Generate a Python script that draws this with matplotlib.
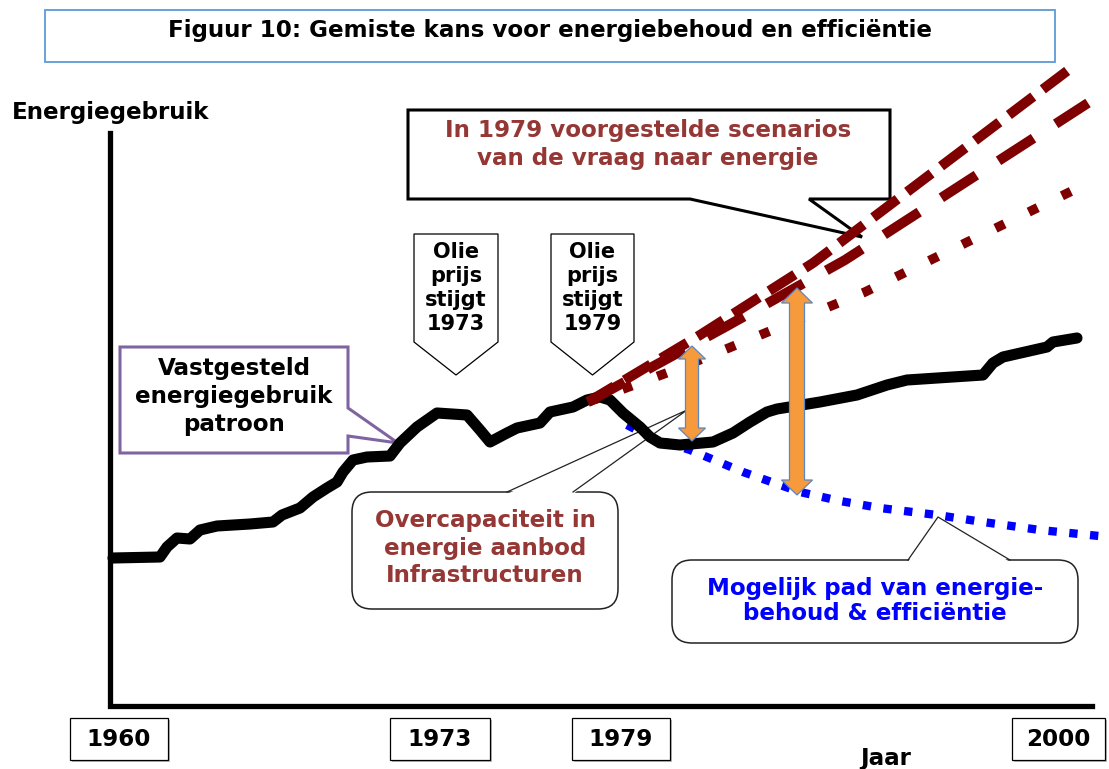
import matplotlib.pyplot as plt
from matplotlib.patches import Polygon, FancyBboxPatch, Rectangle

plt.rcParams['font.family'] = ['DejaVu Sans']
plt.rcParams['lines.scale_dashes'] = False

# diagram units = pixels of the original picture (y grows downward)
# historic energy use, 1960 -> 1979 -> 2000
usage_x = [113, 160, 167, 177, 190, 200, 217, 250, 273, 282, 300, 313, 327, 337,
           343, 353, 367, 390, 400, 417, 437, 467, 480, 490, 507, 517, 540, 550,
           573, 587, 600, 610, 623, 640, 650, 660, 680, 713, 733, 750, 767, 777,
           820, 857, 887, 907, 983, 993, 1003, 1047, 1053, 1077]
usage_y = [558, 557, 547, 538, 539, 530, 526, 524, 522, 515, 508, 497, 488, 482,
           472, 460, 457, 456, 443, 427, 413, 415, 430, 442, 433, 428, 423, 412,
           407, 400, 397, 400, 413, 427, 437, 443, 445, 442, 433, 422, 412, 409,
           402, 395, 385, 380, 375, 363, 357, 347, 342, 338]

# scenarios proposed in 1979
high_x = [588, 700, 813, 1075]
high_y = [402, 335, 263, 65]
mid_x = [588, 727, 845, 1088]
mid_y = [402, 326, 260, 103]
low_x = [588, 680, 865, 1082]
low_y = [402, 368, 292, 186]

# possible conservation & efficiency path
eff_x = [627, 650, 690, 743, 800, 840, 880, 937, 983, 1040, 1109]
eff_y = [425, 437, 450, 472, 492, 501, 508, 515, 522, 530, 537]

# missed-opportunity gaps (x, top, bottom)
gap_x = [692, 797]
gap_top = [346, 288]
gap_bottom = [441, 495]

year_labels = ['1960', '1973', '1979', '2000']
year_left = [70, 390, 572, 1012]
year_right = [168, 490, 670, 1105]

title = 'Figuur 10: Gemiste kans voor energiebehoud en efficiëntie'
dark_red = '#7F0000'
text_red = '#953735'
purple = '#8064A2'
orange = '#F79A3B'
FS = 16.6


def put_lines(ax, x, y, step, lines, **kw):
    for i, s in enumerate(lines):
        ax.text(x, y + i * step, s, ha='center', va='center',
                fontweight='bold', zorder=10, **kw)


def double_arrow(ax, x, y0, y1, shaft, head_w, head_len):
    pts = [(x, y0), (x + head_w / 2, y0 + head_len), (x + shaft / 2, y0 + head_len),
           (x + shaft / 2, y1 - head_len), (x + head_w / 2, y1 - head_len), (x, y1),
           (x - head_w / 2, y1 - head_len), (x - shaft / 2, y1 - head_len),
           (x - shaft / 2, y0 + head_len), (x - head_w / 2, y0 + head_len)]
    ax.add_patch(Polygon(pts, closed=True, fc=orange, ec='#5B87C5', lw=0.9, zorder=8))


def rounded_callout(ax, x0, y0, x1, y1, a, b, tip):
    ax.add_patch(FancyBboxPatch((x0, y0), x1 - x0, y1 - y0,
                                boxstyle='round,pad=0,rounding_size=20',
                                fc='white', ec='#222222', lw=1.1, zorder=4))
    ax.add_patch(Polygon([(a, y0 + 2), tip, (b, y0 + 2)], closed=True,
                         fc='white', ec='none', zorder=4.1))
    ax.plot([a, tip[0], b], [y0, tip[1], y0], color='#222222', lw=0.9, zorder=4.2)


fig = plt.figure(figsize=(11.09, 7.69), dpi=100)
ax = fig.add_axes([0, 0, 1, 1])
ax.set_xlim(0, 1109)
ax.set_ylim(769, 0)
ax.axis('off')

# title
ax.add_patch(Rectangle((45, 10), 1010, 52, fill=False, ec='#5B9BD5', lw=1.3))
ax.text(550, 31, title, ha='center', va='center', fontsize=FS, fontweight='bold')

# axes
ax.plot([110, 110, 1092], [133, 706, 706], color='black', lw=3.8,
        solid_joinstyle='miter', zorder=3)
ax.text(111, 112, 'Energiegebruik', ha='center', va='center', fontsize=FS,
        fontweight='bold')
ax.text(886, 758, 'Jaar', ha='center', va='center', fontsize=FS, fontweight='bold')
for lab, l, r in zip(year_labels, year_left, year_right):
    ax.add_patch(Rectangle((l + 2, 720), r - l, 42, fc='#BBBBBB', ec='none', zorder=2))
    ax.add_patch(Rectangle((l, 718), r - l, 42, fc='white', ec='black', lw=0.9, zorder=2.5))
    ax.text((l + r) / 2, 739, lab, ha='center', va='center', fontsize=FS,
            fontweight='bold', zorder=3)

# lines
ax.plot(eff_x, eff_y, color='#0000FF', lw=6, dashes=(6, 9), zorder=5)
ax.plot(usage_x, usage_y, color='black', lw=8, solid_capstyle='round',
        solid_joinstyle='round', zorder=6)
ax.plot(high_x, high_y, color=dark_red, lw=7.2, dashes=(22, 8.6), zorder=7)
ax.plot(mid_x, mid_y, color=dark_red, lw=7.2, dashes=(30, 19), zorder=7)
ax.plot(low_x, low_y, color=dark_red, lw=6.8, dashes=(7.2, 19.4), zorder=7)

# gap arrows
double_arrow(ax, gap_x[0], gap_top[0], gap_bottom[0], 13, 27, 13)
double_arrow(ax, gap_x[1], gap_top[1], gap_bottom[1], 15, 31, 15)

# scenario callout
ax.add_patch(Polygon([(408, 110), (890, 110), (890, 199), (809, 199), (862, 237),
                      (690, 199), (408, 199)], closed=True, fc='white', ec='black',
                     lw=2.2, zorder=4))
put_lines(ax, 648, 131, 28, ['In 1979 voorgestelde scenarios',
                             'van de vraag naar energie'], fontsize=FS, color=text_red)

# oil price callouts
for left, right, lab in [(414, 498, '1973'), (551, 634, '1979')]:
    mid = (left + right) / 2
    ax.add_patch(Polygon([(left, 234), (right, 234), (right, 342), (mid, 375),
                          (left, 342)], closed=True, fc='white', ec='black',
                         lw=0.9, zorder=4))
    put_lines(ax, mid, 252, 24, ['Olie', 'prijs', 'stijgt', lab], fontsize=15)

# established pattern callout
ax.add_patch(Polygon([(120, 347), (348, 347), (348, 408), (398, 443), (348, 436),
                      (348, 453), (120, 453)], closed=True, fc='white', ec=purple,
                     lw=2.2, zorder=4))
put_lines(ax, 234, 368, 28.5, ['Vastgesteld', 'energiegebruik', 'patroon'], fontsize=FS)

# overcapacity callout
rounded_callout(ax, 352, 492, 618, 609, 507, 573, (687, 410))
put_lines(ax, 485, 520, 28, ['Overcapaciteit in', 'energie aanbod', 'Infrastructuren'],
          fontsize=FS, color=text_red)

# efficiency callout
rounded_callout(ax, 672, 560, 1078, 643, 908, 1010, (938, 517))
put_lines(ax, 875, 588, 25, ['Mogelijk pad van energie-', 'behoud & efficiëntie'],
          fontsize=FS, color='#0000FF')

fig.savefig('out.png', dpi=100)
